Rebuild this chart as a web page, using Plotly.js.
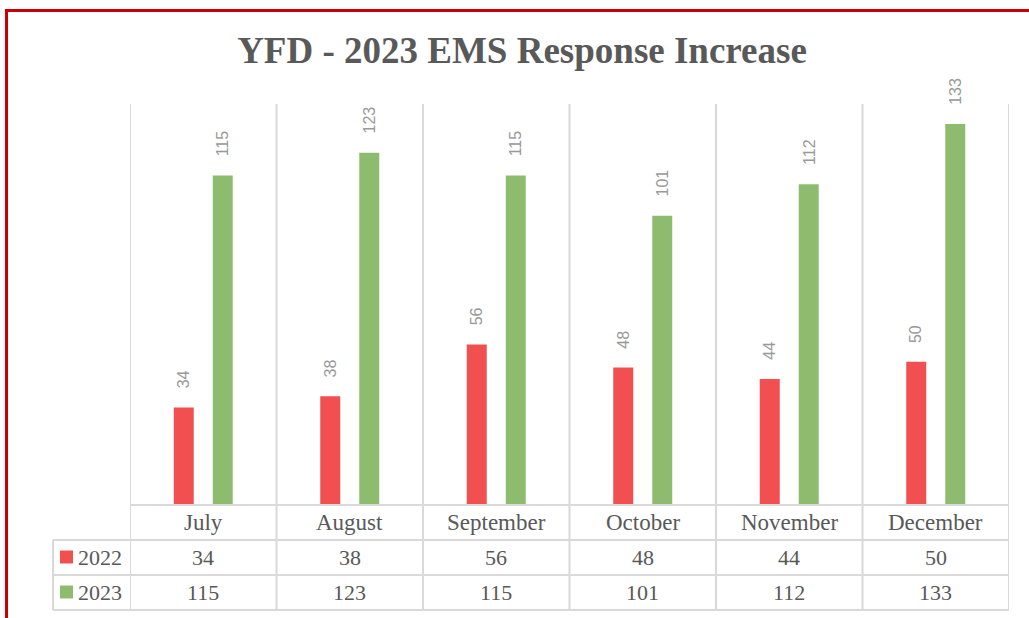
<!DOCTYPE html>
<html>
<head>
<meta charset="utf-8">
<script src="https://cdn.plot.ly/plotly-3.0.1.min.js"></script>
<style>html,body{margin:0;padding:0;background:#fff;}#chart{width:1029px;height:618px;}</style>
</head>
<body>
<div id="chart"></div>
<script>
var months = ["July", "August", "September", "October", "November", "December"];
var seriesNames = ["2022", "2023"];
var values2022 = [34, 38, 56, 48, 44, 50];
var values2023 = [115, 123, 115, 101, 112, 133];
var colors = ["#F25050", "#8EBC6F"];
var titleText = "YFD - 2023 EMS Response Increase";

var W = 1029, H = 618;
var L = 130, R = 1009, T = 104, B = 505;
function px2x(px) { return (px - L) / (R - L); }
function px2y(py) { return (B - py) / (B - T); }

var serif = "Liberation Serif, Times New Roman, serif";
var grey = "#595959";
var gridC = "#D9D9D9";

var traces = [
  {type: "bar", x: months, y: values2022, name: seriesNames[0], marker: {color: colors[0]}, hoverinfo: "none"},
  {type: "bar", x: months, y: values2023, name: seriesNames[1], marker: {color: colors[1]}, hoverinfo: "none"}
];

var shapes = [];
var annotations = [];

// vertical grid / table lines at category boundaries
for (var i = 0; i <= months.length; i++) {
  shapes.push({type: "line", xref: "x", yref: "paper", x0: i - 0.5, x1: i - 0.5,
    y0: px2y(610), y1: 1, line: {color: gridC, width: 2}, layer: "below"});
}
// horizontal table lines
shapes.push({type: "line", xref: "paper", yref: "paper", x0: 0, x1: 1, y0: 0, y1: 0, line: {color: gridC, width: 2}});
[540, 575, 610].forEach(function (py) {
  shapes.push({type: "line", xref: "paper", yref: "paper", x0: px2x(53), x1: 1, y0: px2y(py), y1: px2y(py), line: {color: gridC, width: 2}});
});
shapes.push({type: "line", xref: "paper", yref: "paper", x0: px2x(53), x1: px2x(53), y0: px2y(540), y1: px2y(610), line: {color: gridC, width: 2}});

// red frame
shapes.push({type: "line", xref: "paper", yref: "paper", x0: px2x(5), x1: px2x(1029), y0: px2y(10.5), y1: px2y(10.5), line: {color: "#CC0000", width: 3}});
shapes.push({type: "line", xref: "paper", yref: "paper", x0: px2x(6.5), x1: px2x(6.5), y0: px2y(9), y1: px2y(618), line: {color: "#CC0000", width: 3}});

// month labels
months.forEach(function (m) {
  annotations.push({xref: "x", yref: "paper", x: m, y: px2y(522), text: m, showarrow: false,
    xanchor: "center", yanchor: "middle", font: {family: serif, size: 23, color: grey}});
});

// table rows
var rows = [values2022, values2023];
var rowY = [557, 592];
rows.forEach(function (vals, r) {
  vals.forEach(function (v, i) {
    annotations.push({xref: "x", yref: "paper", x: months[i], y: px2y(rowY[r]), text: String(v), showarrow: false,
      xanchor: "center", yanchor: "middle", font: {family: serif, size: 22, color: grey}});
  });
  annotations.push({xref: "paper", yref: "paper", x: px2x(76), y: px2y(rowY[r]), text: seriesNames[r], showarrow: false,
    xanchor: "left", yanchor: "middle", font: {family: serif, size: 22, color: grey}});
  shapes.push({type: "rect", xref: "paper", yref: "paper", x0: px2x(60), x1: px2x(73),
    y0: px2y(rowY[r] - 6.5), y1: px2y(rowY[r] + 6.5), fillcolor: colors[r], line: {width: 0}});
});

// data labels
rows.forEach(function (vals, r) {
  vals.forEach(function (v, i) {
    annotations.push({xref: "x", yref: "y", x: months[i], y: v, text: String(v), showarrow: false,
      xanchor: "center", yanchor: "bottom", textangle: -90, xshift: r === 0 ? -19.5 : 19.5, yshift: 17,
      font: {family: "Liberation Sans, Arial, sans-serif", size: 16, color: "#999999"}});
  });
});

var layout = {
  width: W, height: H,
  margin: {l: L, r: W - R, t: T, b: H - B, pad: 0},
  paper_bgcolor: "#fff", plot_bgcolor: "#fff",
  showlegend: false,
  barmode: "group", bargap: 0.4676, bargroupgap: 0.487,
  title: {text: "<b>" + titleText + "</b>", x: 522 / W, xanchor: "center", xref: "container",
    y: 1 - 50 / H, yanchor: "middle", yref: "container",
    font: {family: serif, size: 37, color: grey}},
  xaxis: {type: "category", range: [-0.5, 5.5], showticklabels: false, showgrid: false, zeroline: false, showline: false, ticks: "", fixedrange: true},
  yaxis: {range: [0, 140], showticklabels: false, showgrid: false, zeroline: false, showline: false, ticks: "", fixedrange: true},
  shapes: shapes,
  annotations: annotations
};

Plotly.newPlot("chart", traces, layout, {displayModeBar: false, staticPlot: true});
</script>
</body>
</html>
